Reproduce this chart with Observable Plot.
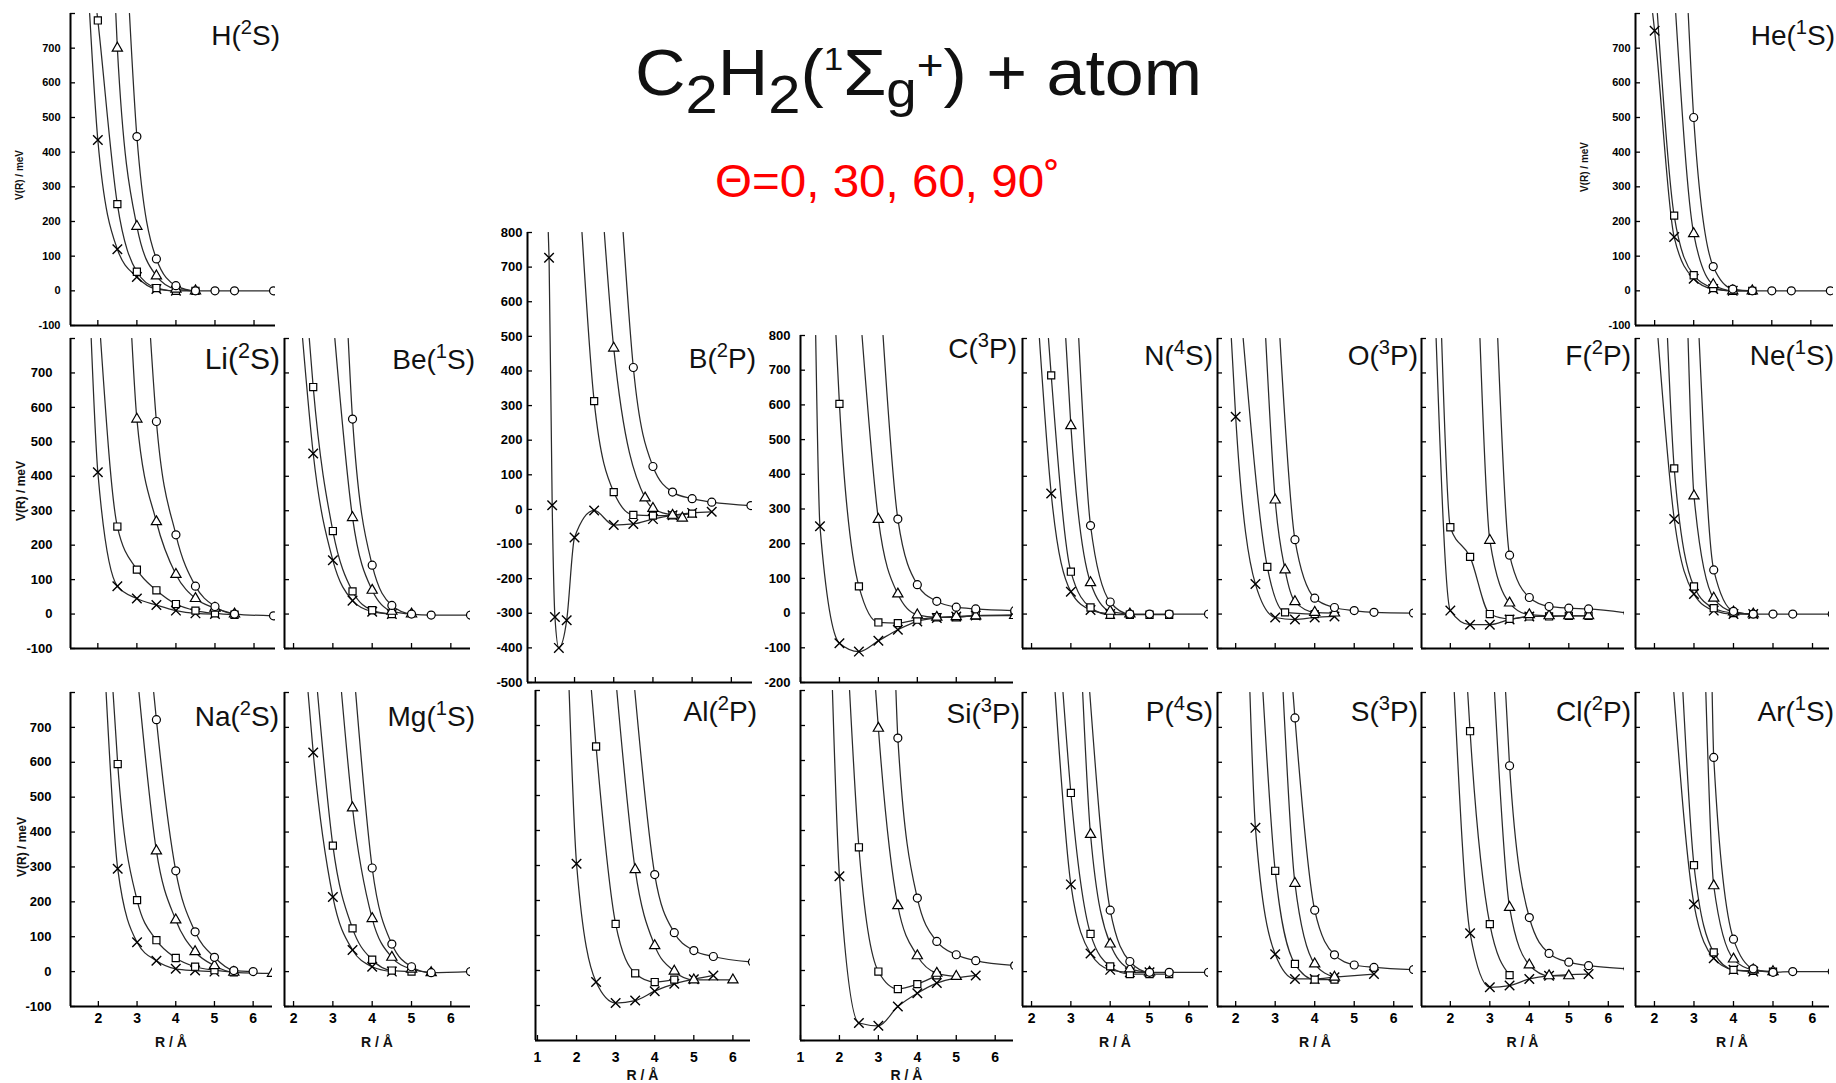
<!DOCTYPE html>
<html><head><meta charset="utf-8">
<script src="https://cdn.jsdelivr.net/npm/d3@7"></script>
<script src="https://cdn.jsdelivr.net/npm/@observablehq/plot@0.6"></script>
<style>
body{margin:0;background:#fff;}
#root{position:relative;width:1836px;height:1083px;overflow:hidden;background:#fff;}
#root svg{position:absolute;}
</style></head><body><div id="root"></div>
<script>
// ---------------- DATA (R in Å, V in meV) ----------------
const atoms = ["H","He","Li","Be","B","C","N","O","F","Ne","Na","Mg","Al","Si","P","S","Cl","Ar"];
const spinMult = ["2","1","2","1","2","3","4","3","2","1","2","1","2","3","4","3","2","1"];
const termLetter = ["S","S","S","S","P","P","S","P","P","S","S","S","P","P","S","P","P","S"];
const thetaText = "Θ=0, 30, 60, 90˚";
// series order: × , □ , △ , ○
const H_x  = [[1.79,800],[2.0,435],[2.5,120],[3.0,40],[3.5,5],[4.0,0]];
const H_sq = [[1.98,800],[2.0,780],[2.5,250],[3.0,55],[3.5,8],[4.0,0],[4.5,0]];
const H_tri= [[2.46,800],[2.5,700],[3.0,186],[3.5,43],[4.0,5],[4.5,0]];
const H_ci = [[2.81,800],[3.0,445],[3.5,92],[4.0,15],[4.5,0],[5.0,0],[5.5,0],[6.5,0]];

const He_x  = [[1.95,800],[2.0,750],[2.5,155],[3.0,35],[3.5,5],[4.0,0]];
const He_sq = [[2.07,800],[2.5,217],[3.0,45],[3.5,8],[4.0,0],[4.5,0]];
const He_tri= [[2.54,800],[3.0,165],[3.5,18],[4.0,0],[4.5,0]];
const He_ci = [[2.86,800],[3.0,500],[3.5,70],[4.0,5],[4.5,0],[5.0,0],[5.5,0],[6.5,0]];

const Li_x  = [[1.83,800],[2.0,412],[2.5,81],[3.0,45],[3.5,26],[4.0,10],[4.5,2],[5.0,0]];
const Li_sq = [[2.07,800],[2.5,254],[3.0,129],[3.5,69],[4.0,29],[4.5,10],[5.0,2],[5.5,-2]];
const Li_tri= [[2.87,800],[3.0,566],[3.5,268],[4.0,115],[4.5,45],[5.0,17],[5.5,0]];
const Li_ci = [[3.35,800],[3.5,559],[4.0,230],[4.5,81],[5.0,22],[5.5,0],[6.5,-5]];

const Be_x  = [[2.23,800],[2.5,466],[3.0,156],[3.5,39],[4.0,7],[4.5,0]];
const Be_sq = [[2.40,800],[2.5,659],[3.0,241],[3.5,66],[4.0,11],[4.5,0]];
const Be_tri= [[3.05,800],[3.5,280],[4.0,69],[4.5,8],[5.0,0]];
const Be_ci = [[3.39,800],[3.5,566],[4.0,142],[4.5,25],[5.0,0],[5.5,-3],[6.5,-3]];

const B_x  = [[1.33,800],[1.35,727],[1.43,12],[1.5,-311],[1.6,-400],[1.8,-320],[2.0,-81],[2.5,-3],[3.0,-45],[3.5,-42],[4.0,-28],[4.5,-17],[5.0,-10],[5.5,-7]];
const B_sq = [[2.19,800],[2.5,313],[3.0,50],[3.5,-16],[4.0,-18],[4.5,-17],[5.0,-12]];
const B_tri= [[2.76,800],[3.0,466],[3.8,33],[4.0,3],[4.5,-17],[4.75,-25]];
const B_ci = [[3.24,800],[3.5,410],[4.0,124],[4.5,50],[5.0,31],[5.5,21],[6.5,11]];

const C_x  = [[1.39,800],[1.5,250],[2.0,-87],[2.5,-111],[3.0,-80],[3.5,-48],[4.0,-24],[4.5,-14],[5.0,-10],[5.5,-7]];
const C_sq = [[1.91,800],[2.0,603],[2.5,77],[3.0,-27],[3.5,-29],[4.0,-19],[4.5,-12],[5.0,-12],[5.5,-7],[6.5,-5]];
const C_tri= [[2.58,800],[3.0,270],[3.5,55],[4.0,-5],[4.5,-12],[5.0,-10],[5.5,-8],[6.5,-7]];
const C_ci = [[3.12,800],[3.5,271],[4.0,82],[4.5,34],[5.0,17],[5.5,12],[6.5,7]];

const N_x  = [[2.2,800],[2.5,350],[3.0,65],[3.5,12],[4.0,0]];
const N_sq = [[2.43,800],[2.5,693],[3.0,123],[3.5,19],[4.0,-2],[4.5,-2],[5.0,-2],[5.5,-2]];
const N_tri= [[2.87,800],[3.0,547],[3.5,91],[4.0,8],[4.5,0]];
const N_ci = [[3.2,800],[3.5,257],[4.0,35],[4.5,0],[5.0,0],[5.5,0],[6.5,0]];

const O_x  = [[1.89,800],[2.0,573],[2.5,87],[3.0,-10],[3.5,-16],[4.0,-10],[4.5,-7]];
const O_sq = [[2.19,800],[2.8,137],[3.25,5],[4.0,0]];
const O_tri= [[2.76,800],[3.0,331],[3.25,128],[3.5,36],[4.0,5],[4.5,3]];
const O_ci = [[3.12,800],[3.5,216],[4.0,46],[4.5,19],[5.0,10],[5.5,5],[6.5,3]];

const F_x  = [[1.64,800],[2.0,10],[2.5,-31],[3.0,-31],[3.5,-16],[4.0,-7]];
const F_sq = [[1.78,800],[2.0,252],[2.5,166],[3.0,0],[3.5,-14],[4.0,-7],[4.5,-7],[5.0,-5],[5.5,-5]];
const F_tri= [[2.75,800],[3.0,214],[3.5,32],[4.0,-2],[4.5,-5],[5.0,-5],[5.5,-5]];
const F_ci = [[3.2,800],[3.5,171],[4.0,48],[4.5,22],[5.0,17],[5.5,15],[6.5,3]];

const Ne_x  = [[2.09,800],[2.5,276],[3.0,58],[3.5,10],[4.0,0],[4.5,0]];
const Ne_sq = [[2.33,800],[2.5,423],[3.0,80],[3.5,17],[4.0,3],[4.5,0]];
const Ne_tri= [[2.85,800],[3.0,343],[3.5,46],[4.0,6],[4.5,0]];
const Ne_ci = [[3.13,800],[3.5,128],[4.0,8],[4.5,0],[5.0,0],[5.5,0],[6.5,0]];

const Na_x  = [[2.2,800],[2.5,295],[3.0,84],[3.5,31],[4.0,8],[4.5,3],[5.0,0]];
const Na_sq = [[2.38,800],[2.5,595],[3.0,205],[3.5,90],[4.0,39],[4.5,14],[5.0,4],[5.5,-2]];
const Na_tri= [[3.05,800],[3.5,346],[4.0,148],[4.5,57],[5.0,17],[5.5,-2],[6.5,-5]];
const Na_ci = [[3.43,800],[3.5,722],[4.0,289],[4.5,114],[5.0,41],[5.5,3],[6.0,0]];

const Mg_x  = [[2.37,800],[2.5,628],[3.0,214],[3.5,62],[4.0,14],[4.5,0]];
const Mg_sq = [[2.61,800],[3.0,361],[3.5,124],[4.0,34],[4.5,3],[5.0,0]];
const Mg_tri= [[3.22,800],[3.5,469],[4.0,152],[4.5,41],[5.0,7],[5.5,-3]];
const Mg_ci = [[3.58,800],[4.0,297],[4.5,79],[5.0,14],[5.5,-3],[6.5,0]];

const Al_x  = [[1.81,800],[2.0,305],[2.5,-33],[3.0,-93],[3.5,-86],[4.0,-59],[4.5,-38],[5.0,-25],[5.5,-14]];
const Al_sq = [[2.38,800],[2.5,640],[3.0,133],[3.5,-8],[4.0,-33],[4.5,-26]];
const Al_tri= [[3.03,800],[3.5,288],[4.0,71],[4.5,-2],[5.0,-27],[6.0,-27]];
const Al_ci = [[3.49,800],[4.0,274],[4.5,108],[5.0,57],[5.5,40],[6.5,24]];

const Si_x  = [[1.82,800],[2.0,269],[2.5,-150],[3.0,-158],[3.5,-103],[4.0,-65],[4.5,-36],[5.5,-14]];
const Si_sq = [[2.26,800],[2.5,352],[3.0,-3],[3.5,-53],[4.0,-39],[4.5,-14]];
const Si_tri= [[2.93,800],[3.0,692],[3.5,185],[4.0,42],[4.5,-8],[5.0,-17]];
const Si_ci = [[3.45,800],[3.5,664],[4.0,207],[4.5,83],[5.0,45],[5.5,28],[6.5,14]];

const P_x  = [[2.6,800],[3.0,250],[3.5,52],[4.0,5],[4.5,-2],[5.0,-2]];
const P_sq = [[2.8,800],[3.0,512],[3.5,108],[4.0,15],[4.5,-7],[5.0,-7],[5.5,-7]];
const P_tri= [[3.3,800],[3.5,393],[4.0,79],[4.5,8],[5.0,-2]];
const P_ci = [[3.48,800],[4.0,176],[4.5,29],[5.0,-2],[5.5,-2],[6.5,-2]];

const S_x  = [[2.36,800],[2.5,412],[3.0,50],[3.5,-21],[4.0,-21],[4.5,-16],[5.5,-7]];
const S_sq = [[2.69,800],[3.0,289],[3.5,22],[4.0,-23],[4.5,-23]];
const S_tri= [[3.2,800],[3.5,253],[4.0,22],[4.5,-16]];
const S_ci = [[3.45,800],[3.5,727],[4.0,176],[4.5,48],[5.0,19],[5.5,12],[6.5,6]];

const Cl_x  = [[2.1,800],[2.5,110],[3.0,-45],[3.5,-40],[4.0,-21],[4.5,-12],[5.5,-7]];
const Cl_sq = [[2.44,800],[2.5,689],[3.0,136],[3.5,-10]];
const Cl_tri= [[3.12,800],[3.5,184],[4.0,19],[4.5,-12],[5.0,-12]];
const Cl_ci = [[3.4,800],[3.5,590],[4.0,155],[4.5,52],[5.0,27],[5.5,17],[6.5,8]];

const Ar_x  = [[2.49,800],[3.0,193],[3.5,38],[4.0,5],[4.5,0]];
const Ar_sq = [[2.72,800],[3.0,305],[3.5,55],[4.0,5],[4.5,2],[5.0,0]];
const Ar_tri= [[3.3,800],[3.5,246],[4.0,36],[4.5,5],[5.0,0]];
const Ar_ci = [[3.46,800],[3.5,614],[4.0,93],[4.5,8],[5.0,-2],[5.5,0],[6.5,0]];

const curves = {
  H:[H_x,H_sq,H_tri,H_ci], He:[He_x,He_sq,He_tri,He_ci], Li:[Li_x,Li_sq,Li_tri,Li_ci],
  Be:[Be_x,Be_sq,Be_tri,Be_ci], B:[B_x,B_sq,B_tri,B_ci], C:[C_x,C_sq,C_tri,C_ci],
  N:[N_x,N_sq,N_tri,N_ci], O:[O_x,O_sq,O_tri,O_ci], F:[F_x,F_sq,F_tri,F_ci],
  Ne:[Ne_x,Ne_sq,Ne_tri,Ne_ci], Na:[Na_x,Na_sq,Na_tri,Na_ci], Mg:[Mg_x,Mg_sq,Mg_tri,Mg_ci],
  Al:[Al_x,Al_sq,Al_tri,Al_ci], Si:[Si_x,Si_sq,Si_tri,Si_ci], P:[P_x,P_sq,P_tri,P_ci],
  S:[S_x,S_sq,S_tri,S_ci], Cl:[Cl_x,Cl_sq,Cl_tri,Cl_ci], Ar:[Ar_x,Ar_sq,Ar_tri,Ar_ci]
};

// ---------------- LAYOUT (page pixels) ----------------
const FONT = "Liberation Sans, Arial, Helvetica, sans-serif";
const std = [-100,800], deep = [-200,800];
const LS = 28;
const layout = {
  H: {l:70,r:275,t:13,b:325,xd:[1.3,6.55],yd:std,yMax:700,yPad:10,yFs:11,yTitle:[20,175,10],lab:[280,45,28]},
  He:{l:1635,r:1833,t:13,b:325,xd:[1.51,6.58],yd:std,yMax:700,yPad:5,yFs:11,yTitle:[1585,167,10],lab:[1835,45,28]},
  Li:{l:70,r:275,t:338,b:648,xd:[1.3,6.55],yd:std,yMax:700,yPad:18,yFs:13,yTitle:[22,491,12],lab:[280,369,30]},
  Be:{l:284,r:470,t:338,b:648,xd:[1.77,6.5],yd:std,lab:[475,369,LS]},
  B: {l:527,r:752,t:232,b:682,xd:[0.8,6.54],yd:[-500,800],yMax:800,yPad:5,yFs:13,lab:[756,368,LS]},
  C: {l:800,r:1013,t:335,b:682,xd:[1.0,6.47],yd:deep,yMax:800,yPad:10,yFs:13,lab:[1017,358,LS]},
  N: {l:1022,r:1208,t:338,b:648,xd:[1.77,6.5],yd:std,lab:[1213,365,LS]},
  O: {l:1217,r:1413,t:338,b:648,xd:[1.54,6.5],yd:std,lab:[1418,365,LS]},
  F: {l:1421,r:1624,t:338,b:648,xd:[1.27,6.41],yd:std,lab:[1631,365,LS]},
  Ne:{l:1635,r:1829,t:338,b:648,xd:[1.52,6.43],yd:std,lab:[1834,365,LS]},
  Na:{l:70,r:272,t:692,b:1006,xd:[1.28,6.5],yd:std,yMax:700,yPad:19,yFs:13,yTitle:[23,847,12],lab:[279,726,LS],xLab:true,xPad:7,xTitle:1043},
  Mg:{l:284,r:470,t:692,b:1006,xd:[1.77,6.5],yd:std,lab:[475,726,LS],xLab:true,xPad:7,xTitle:1043},
  Al:{l:535,r:750,t:690,b:1040,xd:[0.95,6.45],yd:deep,lab:[757,721,LS],xLab:true,xPad:12,xTitle:1076},
  Si:{l:800,r:1013,t:690,b:1040,xd:[1.0,6.47],yd:deep,lab:[1020,723,LS],xLab:true,xPad:12,xTitle:1076},
  P: {l:1022,r:1208,t:692,b:1006,xd:[1.77,6.5],yd:std,lab:[1213,721,LS],xLab:true,xPad:7,xTitle:1043},
  S: {l:1217,r:1413,t:692,b:1006,xd:[1.54,6.5],yd:std,lab:[1418,721,LS],xLab:true,xPad:7,xTitle:1043},
  Cl:{l:1421,r:1624,t:692,b:1006,xd:[1.27,6.41],yd:std,lab:[1631,721,LS],xLab:true,xPad:7,xTitle:1043},
  Ar:{l:1635,r:1829,t:692,b:1006,xd:[1.52,6.43],yd:std,lab:[1834,721,LS],xLab:true,xPad:7,xTitle:1043}
};

// ---------------- DRAW ----------------
const root = document.getElementById("root");
const mL = 80, mR = 30, mT = 12, mB = 80;
const symbols = ["times","square","triangle","circle"];

atoms.forEach((a, i) => {
  const L = layout[a];
  const W = L.r - L.l, Hh = L.b - L.t;
  const rows = [];
  curves[a].forEach((arr, k) => arr.forEach(([R, V]) => rows.push({R, V, k})));
  const pts = rows.filter(d => d.V < L.yd[1]);
  const yt = d3.range(L.yd[0], L.yd[1] + 1, 100);
  const xt = d3.range(Math.ceil(L.xd[0] - 1e-9), Math.floor(L.xd[1]) + 1);
  const marks = [
    Plot.line(rows, {x: "R", y: "V", z: "k", curve: "monotone-x", stroke: "#2a2a2a", strokeWidth: 1.25, clip: true}),
    ...symbols.map((s, k) => Plot.dot(pts.filter(d => d.k === k), {
      x: "R", y: "V", symbol: s, r: k === 0 ? 4.4 : (k === 2 ? 3.8 : 4),
      stroke: "#000", strokeWidth: k === 0 ? 1.4 : 1.2, fill: k === 0 ? "none" : "#fff", clip: true
    })),
    Plot.tickY(yt, {insetRight: W - 5, stroke: "#000", strokeWidth: 1.3}),
    Plot.tickX(xt, {insetTop: Hh - 5, stroke: "#000", strokeWidth: 1.3}),
    Plot.ruleX([L.xd[0]], {stroke: "#000", strokeWidth: 2}),
    Plot.ruleY([L.yd[0]], {stroke: "#000", strokeWidth: 2})
  ];
  if (L.yMax != null) marks.push(Plot.axisY({ticks: d3.range(L.yd[0], L.yMax + 1, 100), tickSize: 0, tickPadding: L.yPad,
    tickFormat: d => String(d), fontSize: L.yFs, fontWeight: "bold", label: null}));
  if (L.xLab) marks.push(Plot.axisX({ticks: xt, tickSize: 0, tickPadding: L.xPad,
    tickFormat: d => String(d), fontSize: 14, fontWeight: "bold", label: null}));
  const svg = Plot.plot({
    width: W + mL + mR, height: Hh + mT + mB,
    marginLeft: mL, marginRight: mR, marginTop: mT, marginBottom: mB,
    x: {domain: L.xd, axis: null}, y: {domain: L.yd, axis: null},
    style: {fontFamily: FONT, background: "transparent", overflow: "visible", maxWidth: "none", color: "#000"},
    marks
  });
  svg.style.left = (L.l - mL) + "px";
  svg.style.top = (L.t - mT) + "px";
  root.appendChild(svg);
  const g = d3.select(svg);
  const [lx, ly, lfs] = L.lab;
  const t = g.append("text").attr("x", lx - L.l + mL).attr("y", ly - L.t + mT)
    .attr("text-anchor", "end").attr("font-size", lfs).attr("font-family", FONT).attr("fill", "#111");
  t.append("tspan").text(a + "(");
  t.append("tspan").attr("font-size", lfs * 0.72).attr("dy", -lfs * 0.38).text(spinMult[i]);
  t.append("tspan").attr("dy", lfs * 0.38).text(termLetter[i] + ")");
  if (L.yTitle) {
    const [tx, ty, tfs] = L.yTitle;
    g.append("text").attr("transform", `translate(${tx - L.l + mL},${ty - L.t + mT}) rotate(-90)`)
      .attr("text-anchor", "middle").attr("dominant-baseline", "middle")
      .attr("font-size", tfs).attr("font-weight", "bold").attr("font-family", FONT).attr("fill", "#111")
      .text("V(R) / meV");
  }
  if (L.xTitle) {
    g.append("text").attr("x", mL + W / 2).attr("y", L.xTitle - L.t + mT)
      .attr("text-anchor", "middle").attr("dominant-baseline", "middle")
      .attr("font-size", 14).attr("font-weight", "bold").attr("font-family", FONT).attr("fill", "#111")
      .text("R / Å");
  }
});

// ---------------- TITLE ----------------
const ts = d3.select(root).append("svg").attr("width", 1836).attr("height", 1083)
  .style("left", "0px").style("top", "0px").style("pointer-events", "none");
const tt = ts.append("text").attr("x", 635).attr("y", 95).attr("font-size", 64)
  .attr("font-family", FONT).attr("fill", "#111").attr("textLength", 567).attr("lengthAdjust", "spacingAndGlyphs");
const parts = [["C",64,0],["2",53,18],["H",64,-18],["2",53,18],["(",64,-18],["1",32,-25],["Σ",64,25],["g",50,12],["+",42,-27],[")",64,15],[" + atom",64,0]];
parts.forEach(([s, fs, dy]) => tt.append("tspan").attr("font-size", fs).attr("dy", dy).text(s));
ts.append("text").attr("x", 715).attr("y", 197).attr("font-size", 46).attr("font-family", FONT)
  .attr("fill", "#ff0000").attr("textLength", 345).attr("lengthAdjust", "spacingAndGlyphs").text(thetaText);
</script></body></html>
